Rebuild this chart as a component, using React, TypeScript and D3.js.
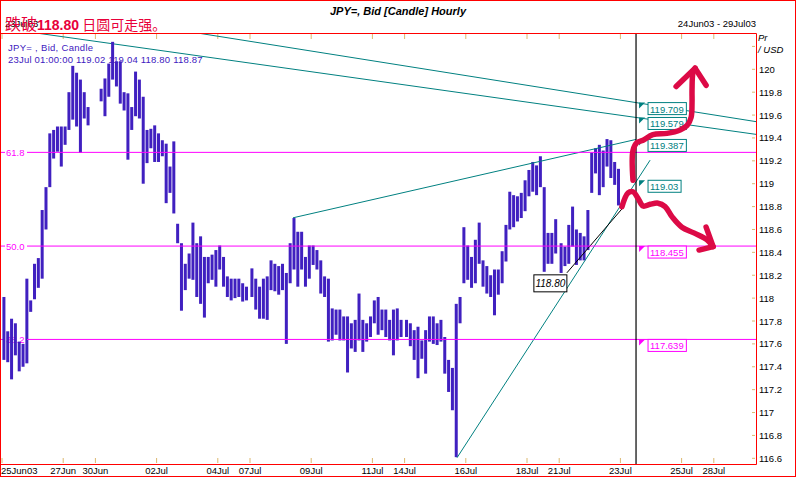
import React from "react";
import * as d3 from "d3";

// ---------- data ----------
const dayLabels = ["25Jun","26Jun","27Jun","30Jun","01Jul","02Jul","03Jul","04Jul","07Jul","08Jul","09Jul","10Jul","11Jul","14Jul","15Jul","16Jul","17Jul","18Jul","21Jul","22Jul","23Jul","24Jul","25Jul","28Jul","29Jul"];
const mondays = ["30Jun","07Jul","14Jul","21Jul","28Jul"];
const xTickLabels = ["25Jun03","27Jun","30Jun","02Jul","04Jul","07Jul","09Jul","11Jul","14Jul","16Jul","18Jul","21Jul","23Jul","25Jul","28Jul"];
const yTicks = [116.6,116.8,117,117.2,117.4,117.6,117.8,118,118.2,118.4,118.6,118.8,119,119.2,119.4,119.6,119.8,120,120.2];

// 3-hour bars (8 per trading day): highs and lows
const highs: (number | null)[][] = [
  [118.01,117.71,117.82,117.78,117.62,117.60,118.17,117.98],
  [118.30,118.35,118.77,118.97,119.44,119.47,119.50,119.50],
  [119.50,119.80,120.03,119.97,119.91,119.80,119.67,null],
  [null,119.83,119.92,120.05,120.24,120.07,120.07,119.80],
  [119.79,119.67,119.98,119.91,119.76,119.47,119.48,119.51],
  [119.44,119.38,119.35,119.15,119.37,118.65,118.48,118.30],
  [118.39,118.66,118.48,118.54,118.36,118.36,118.38,118.42],
  [118.46,118.36,118.19,118.17,118.17,118.17,118.13,118.10],
  [118.26,118.17,118.10,118.17,118.19,118.33,118.30,118.28],
  [118.30,118.22,118.48,118.70,118.58,118.58,118.36,118.46],
  [118.46,118.42,118.33,118.19,118.17,117.91,117.90,117.90],
  [117.84,117.84,117.78,117.81,118.04,117.81,117.78,117.84],
  [117.98,118.01,117.90,117.90,117.81,117.90,117.91,117.81],
  [117.81,117.78,117.72,117.75,117.63,117.72,117.84,117.84],
  [117.78,117.81,117.66,117.46,117.39,117.95,118.01,118.62],
  [118.46,118.36,118.51,118.66,118.33,118.28,118.20,118.25],
  [118.25,118.41,118.64,118.93,118.90,118.89,118.92,119.03],
  [119.12,119.19,119.16,119.24,118.97,118.57,118.57,118.69],
  [118.48,118.45,118.64,118.80,118.60,118.57,118.54,118.77],
  [119.27,119.31,119.34,119.29,119.39,119.38,119.19,119.13],
];
const lows: (number | null)[][] = [
  [117.46,117.44,117.29,117.50,117.36,117.40,117.43,117.88],
  [117.99,118.09,118.17,118.60,118.97,119.22,119.28,119.15],
  [119.34,119.47,119.56,119.50,119.27,119.57,119.51,null],
  [null,119.72,119.59,119.76,119.91,119.85,119.70,119.64],
  [119.21,119.47,119.59,119.57,119.00,119.18,119.31,119.19],
  [119.19,119.24,118.83,118.92,118.74,118.48,117.89,118.07],
  [118.17,118.16,118.01,117.95,117.83,118.13,118.16,118.10],
  [118.25,118.10,118.01,117.98,118.00,118.01,117.97,117.98],
  [118.01,117.90,117.82,117.82,117.81,118.07,118.06,118.03],
  [118.07,117.60,118.13,118.25,118.10,118.25,118.10,118.17],
  [118.29,118.25,118.04,118.01,117.62,117.63,117.68,117.63],
  [117.63,117.35,117.56,117.53,117.63,117.53,117.62,117.66],
  [117.78,117.68,117.72,117.66,117.63,117.50,117.63,117.66],
  [117.66,117.58,117.46,117.30,117.47,117.34,117.62,117.60],
  [117.59,117.62,117.34,117.18,117.02,116.61,117.78,118.13],
  [118.16,118.09,118.13,118.30,118.10,118.04,118.01,117.85],
  [118.03,118.13,118.32,118.60,118.62,118.67,118.70,118.76],
  [118.89,118.93,118.90,118.97,118.23,118.30,118.30,118.39],
  [118.22,118.28,118.30,118.45,118.29,118.33,118.33,118.42],
  [118.92,119.09,118.90,118.97,119.15,119.05,118.99,118.81],
];

// horizontal retracement levels
const fibLabels = ["61.8", "50.0", "38.2"];
const fibPrices = [119.274, 118.455, 117.639];

// cursor position (chart day units) and the values read there
const cursorU = 20.72;
const tealValues = ["119.709", "119.579", "119.387", "119.03"];
const magentaValues = ["118.455", "117.639"];

// trend lines: [u, price] anchors
const lineUpper = [[6.797, 120.30], [20.72, 119.709]];
const lineLower = [[1.34, 120.309], [20.72, 119.579]];
const lineChannel = [[9.51, 118.702], [20.72, 119.387]];
const lineRising = [[14.87, 116.605], [21.18, 119.206]];
const lineBlack = [[18.46, 118.221], [20.26, 118.78]];
const blackLabel = "118.80";

// hand-drawn annotation arrows in [u, price]
const upArrow = [[20.62,119.03],[20.62,119.29],[20.75,119.36],[20.95,119.38],[21.27,119.43],[21.73,119.44],[22.16,119.47],[22.39,119.51],[22.52,119.58],[22.55,119.71],[22.55,119.82],[22.58,119.97],[22.65,120.01]];
const upHead = [[22.03,119.85],[22.65,120.01],[23.01,119.86]];
const downArrow = [[20.26,118.80],[20.46,118.92],[20.62,118.93],[20.78,118.875],[20.95,118.805],[21.18,118.82],[21.44,118.83],[21.67,118.80],[21.90,118.71],[22.22,118.62],[22.61,118.57],[23.04,118.51],[23.24,118.45]];
const downHead = [[23.01,118.62],[23.24,118.45],[22.78,118.42]];

const sans = "'Liberation Sans', Arial, Helvetica, sans-serif";
const cjk = "'Noto Sans CJK SC', sans-serif";
const RED = "#ff0000";
const TEAL = "#008080";
const MAG = "#ff00ff";
const BAR = "#4020c0";
const TAN = "#dcb870";
const ANN = "#dc0a46";

export default function App() {
  const W = 797, H = 478;
  const top = 33, right = 756, bottom = 464;
  const dayPx = 30.6, gapPx = 1.6;
  const uMax = (right - 2) / dayPx;
  const x = d3.scaleLinear().domain([0, uMax]).range([2, right]);
  const y = d3.scaleLinear().domain([116.6, 120]).range([458.3, 69.3]);
  const gap = gapPx / dayPx;
  const wk = dayLabels.map((_, i) => dayLabels.slice(1, i + 1).filter((l) => mondays.includes(l)).length);
  const dayU = (d: number, f: number) => d + f + wk[d] * gap;

  const bars: { cx: number; y1: number; y2: number }[] = [];
  highs.forEach((row, d) => {
    row.forEach((h, s) => {
      const l = lows[d][s];
      if (h == null || l == null) return;
      bars.push({ cx: x(dayU(d, (s + 0.5) / 8)), y1: y(h), y2: y(l) });
    });
  });

  const extend = (pts: number[][]) => {
    const [[u1, p1], [u2, p2]] = pts;
    const k = (p2 - p1) / (u2 - u1);
    return [[0, p1 - k * u1], [uMax, p1 + k * (uMax - u1)]];
  };
  const seg = (pts: number[][]) => ({ x1: x(pts[0][0]), y1: y(pts[0][1]), x2: x(pts[1][0]), y2: y(pts[1][1]) });
  const lU = seg(extend(lineUpper));
  const lL = seg(extend(lineLower));
  const lC = seg(lineChannel);
  const lR = seg(lineRising);
  const lB = seg(lineBlack);

  const curve = d3.line<number[]>().x((p) => x(p[0])).y((p) => y(p[1])).curve(d3.curveCatmullRom.alpha(0.5));
  const straight = d3.line<number[]>().x((p) => x(p[0])).y((p) => y(p[1]));

  const cx = x(cursorU);
  const fs = 9.5;
  const textW = (s: string) => s.split("").reduce((a, c) => a + (c === "." ? 0.278 : 0.556), 0) * fs;

  const valueBox = (v: string, color: string, i: number) => {
    const yy = y(+v);
    const bx = cx + 12;
    const w = textW(v) + 4;
    return (
      <g key={color + i}>
        <polygon points={`${cx + 3},${yy} ${cx + 9},${yy} ${cx + 3},${yy + 6}`} fill={color} />
        <rect x={bx} y={yy} width={w} height={12} fill="#fff" stroke={color} strokeWidth={1} />
        <text x={bx + 2} y={yy + 10} fill={color} fontSize={fs} fontFamily={sans}>{v}</text>
      </g>
    );
  };

  const tickXs = xTickLabels.map((lab) => {
    const idx = dayLabels.indexOf(lab.slice(0, 5));
    return { lab, px: x(dayU(idx, 0)) };
  });

  const bx0 = x(lineBlack[0][0]);
  const by0 = y(lineBlack[0][1]);

  return (
    <svg width={W} height={H} style={{ position: "absolute", left: 0, top: 0, background: "#fff" }} fontFamily={sans}>
      <defs>
        <clipPath id="plotClip">
          <rect x={0} y={top} width={right} height={bottom - top} />
        </clipPath>
      </defs>
      <rect x={0} y={0} width={W} height={H} fill="#fff" />

      {/* title area */}
      <text x={398} y={15} textAnchor="middle" fontSize={11} fontWeight="bold" fontStyle="italic" fill="#000">JPY=, Bid [Candle] Hourly</text>
      <text x={right} y={27} textAnchor="end" fontSize={fs} fill="#000">24Jun03 - 29Jul03</text>
      <text x={5} y={27} fontSize={fs} fill="#000">23Jul03</text>

      {/* right axis header */}
      <text x={758} y={41} fontSize={fs} fontStyle="italic" fill="#000">Pr</text>
      <text x={758} y={53} fontSize={fs} fontStyle="italic" fill="#000">/ USD</text>

      {/* y ticks and labels */}
      {yTicks.map((v) => (
        <g key={"yt" + v}>
          <line x1={right - 4} x2={right - 1} y1={y(v)} y2={y(v)} stroke={TAN} />
          {v <= 120 && (
            <text x={759} y={y(v) + 3.5} fontSize={fs} fill="#000">{String(+v.toFixed(1))}</text>
          )}
        </g>
      ))}

      {/* x ticks and labels */}
      {tickXs.map(({ lab, px }, i) => (
        <g key={"xt" + lab}>
          <line x1={px} x2={px} y1={bottom - 6} y2={bottom - 1} stroke={TAN} />
          <line x1={px} x2={px} y1={top + 1} y2={top + 6} stroke={TAN} />
          <text x={i === 0 ? 1 : px} y={474} textAnchor={i === 0 ? "start" : "middle"} fontSize={fs} fill="#000">{lab}</text>
        </g>
      ))}

      {/* fib labels (under bars) */}
      {fibPrices.map((p, i) => (
        <g key={"fl" + i}>
          <rect x={5} y={y(p) - 5} width={21} height={10} fill="#fff" />
          <line x1={1} x2={5} y1={y(p)} y2={y(p)} stroke={MAG} />
          <text x={6} y={y(p) + 3.5} fontSize={fs} fill={MAG}>{fibLabels[i]}</text>
        </g>
      ))}

      <g clipPath="url(#plotClip)">
        {/* header inside plot */}
        <text x={8} y={51} fontSize={fs} fill={BAR} letterSpacing={0.3}>JPY= , Bid, Candle</text>
        <text x={8} y={63} fontSize={fs} fill={BAR} letterSpacing={0.2}>23Jul 01:00:00 119.02 119.04 118.80 118.87</text>

        {/* trend lines */}
        <line {...lU} stroke={TEAL} strokeWidth={1} />
        <line {...lL} stroke={TEAL} strokeWidth={1} />

        {/* bars */}
        {bars.map((b, i) => (
          <rect key={"b" + i} x={b.cx - 1.5} y={b.y1} width={3} height={Math.max(1, b.y2 - b.y1)} fill={BAR} />
        ))}

        <line {...lC} stroke={TEAL} strokeWidth={1} />
        <line {...lR} stroke={TEAL} strokeWidth={1} />
        <line {...lB} stroke="#000" strokeWidth={1} />

        {/* fib lines */}
        {fibPrices.map((p, i) => (
          <line key={"fib" + i} x1={27} x2={right} y1={y(p)} y2={y(p)} stroke={MAG} strokeWidth={1} />
        ))}

        {/* cursor line */}
        <line x1={cx} x2={cx} y1={top} y2={bottom} stroke="#000" strokeWidth={1.2} />
      </g>

      {/* 118.80 label box */}
      <rect x={bx0 - 33} y={by0 + 2} width={33} height={17} fill="#fff" stroke="#000" strokeWidth={1} />
      <text x={bx0 - 16.5} y={by0 + 14.5} textAnchor="middle" fontSize={10} fontStyle="italic" fill="#000">{blackLabel}</text>

      {/* value boxes */}
      {tealValues.map((v, i) => valueBox(v, TEAL, i))}
      {magentaValues.map((v, i) => valueBox(v, MAG, i))}

      {/* hand-drawn arrows */}
      <path d={curve(upArrow) || ""} fill="none" stroke={ANN} strokeWidth={5.5} strokeLinecap="round" strokeLinejoin="round" />
      <path d={straight(upHead) || ""} fill="none" stroke={ANN} strokeWidth={5.5} strokeLinecap="round" strokeLinejoin="round" />
      <path d={curve(downArrow) || ""} fill="none" stroke={ANN} strokeWidth={5.5} strokeLinecap="round" strokeLinejoin="round" />
      <path d={straight(downHead) || ""} fill="none" stroke={ANN} strokeWidth={5.5} strokeLinecap="round" strokeLinejoin="round" />

      {/* red annotation text */}
      <text x={5} y={30} fill="#e8003a">
        <tspan fontFamily={cjk} fontSize={16}>跌破</tspan>
        <tspan fontFamily={sans} fontSize={14} fontWeight="bold">118.80</tspan>
        <tspan fontFamily={cjk} fontSize={14}> 日圆可走强。</tspan>
      </text>

      {/* frames */}
      <path d={`M0.5,${top + 0.5} H${right + 0.5} V${bottom + 0.5} H0.5`} fill="none" stroke={RED} strokeWidth={1} />
      <rect x={0.5} y={0.5} width={795} height={476} fill="none" stroke={RED} strokeWidth={1} />
    </svg>
  );
}
